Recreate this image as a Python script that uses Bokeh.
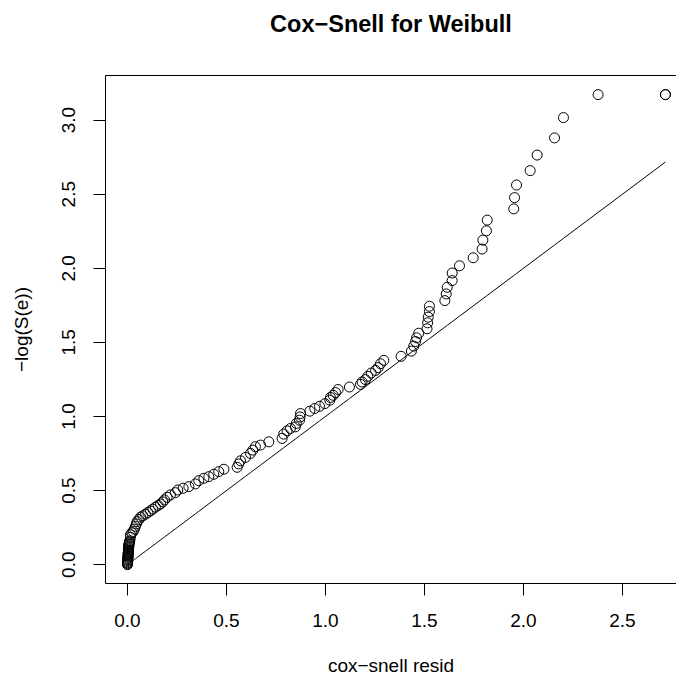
from bokeh.plotting import figure
from bokeh.models import Range1d, FixedTicker, LinearAxis, PrintfTickFormatter
from bokeh.embed import file_html
from bokeh.resources import INLINE

# Cox-Snell residuals (x) and -log(KM survival) (y)
cs_resid = [0.000, 0.000, 0.001, 0.001, 0.001, 0.002, 0.002, 0.002, 0.003, 0.003,
            0.003, 0.004, 0.004, 0.005, 0.005, 0.005, 0.006, 0.006, 0.007, 0.007,
            0.008, 0.009, 0.010, 0.012, 0.015, 0.015, 0.022, 0.029, 0.035, 0.040,
            0.045, 0.049, 0.058, 0.066, 0.078, 0.091, 0.103, 0.116, 0.128, 0.141,
            0.155, 0.167, 0.178, 0.187, 0.200, 0.217, 0.242, 0.254, 0.281, 0.310,
            0.343, 0.360, 0.386, 0.411, 0.436, 0.461, 0.487, 0.554, 0.562, 0.571,
            0.596, 0.621, 0.633, 0.646, 0.672, 0.714, 0.781, 0.789, 0.806, 0.823,
            0.848, 0.853, 0.869, 0.872, 0.874, 0.921, 0.946, 0.970, 0.997, 1.022,
            1.025, 1.039, 1.051, 1.064, 1.121, 1.177, 1.185, 1.202, 1.214, 1.231,
            1.253, 1.266, 1.278, 1.295, 1.382, 1.434, 1.446, 1.455, 1.460, 1.471,
            1.513, 1.516, 1.519, 1.525, 1.525, 1.603, 1.610, 1.615, 1.640, 1.640,
            1.677, 1.746, 1.791, 1.795, 1.813, 1.817, 1.951, 1.955, 1.965, 2.034,
            2.069, 2.157, 2.202, 2.377, 2.717, 2.717]
neg_log_surv = [0.000, 0.007, 0.013, 0.021, 0.028, 0.034, 0.042, 0.049, 0.056, 0.062,
                0.070, 0.077, 0.083, 0.091, 0.098, 0.105, 0.112, 0.118, 0.126, 0.133,
                0.140, 0.147, 0.154, 0.161, 0.185, 0.202, 0.215, 0.224, 0.240, 0.258,
                0.275, 0.291, 0.305, 0.321, 0.330, 0.341, 0.352, 0.363, 0.375, 0.388,
                0.400, 0.410, 0.424, 0.437, 0.455, 0.471, 0.486, 0.504, 0.516, 0.527,
                0.545, 0.567, 0.583, 0.594, 0.610, 0.628, 0.644, 0.657, 0.680, 0.701,
                0.724, 0.751, 0.773, 0.796, 0.807, 0.829, 0.852, 0.881, 0.903, 0.919,
                0.930, 0.953, 0.975, 0.997, 1.020, 1.036, 1.054, 1.069, 1.087, 1.110,
                1.128, 1.143, 1.161, 1.182, 1.199, 1.217, 1.233, 1.249, 1.271, 1.293,
                1.311, 1.330, 1.356, 1.379, 1.406, 1.441, 1.475, 1.506, 1.531, 1.562,
                1.592, 1.632, 1.670, 1.708, 1.744, 1.782, 1.827, 1.872, 1.917, 1.968,
                2.017, 2.071, 2.130, 2.190, 2.253, 2.325, 2.401, 2.477, 2.562, 2.659,
                2.764, 2.880, 3.017, 3.172, 3.172, 3.172]

x_ticks = [0.0, 0.5, 1.0, 1.5, 2.0, 2.5]
y_ticks = [0.0, 0.5, 1.0, 1.5, 2.0, 2.5, 3.0]

FONT = "Liberation Sans"

p = figure(width=676, height=678, output_backend="svg", toolbar_location=None,
           x_range=Range1d(-0.111, 2.773), y_range=Range1d(-0.127, 3.301),
           min_border_left=105, min_border_right=0, min_border_top=75, min_border_bottom=95,
           background_fill_color="white", border_fill_color="white")
p.grid.visible = False
p.outline_line_color = None

xax = p.below[0]
yax = p.left[0]

for ax, ticks in ((xax, x_ticks), (yax, y_ticks)):
    ax.ticker = FixedTicker(ticks=ticks)
    ax.formatter = PrintfTickFormatter(format="%.1f")
    ax.major_tick_out = 12
    ax.major_tick_in = 0
    ax.minor_tick_line_color = None
    ax.major_tick_line_color = "black"
    ax.axis_line_color = "black"
    ax.major_label_text_font = FONT
    ax.major_label_text_font_size = "19px"
    ax.major_label_text_color = "black"
    ax.axis_label_text_font = FONT
    ax.axis_label_text_font_size = "19px"
    ax.axis_label_text_font_style = "normal"
    ax.axis_label_text_color = "black"

xax.axis_label = "cox\u2212snell resid"
xax.major_label_standoff = 18
xax.axis_label_standoff = 25
yax.axis_label = "\u2212log(S(e))"
yax.major_label_orientation = "parallel"
yax.major_label_standoff = 18
yax.axis_label_standoff = 28

# top border of the box, carrying the main title (the right side is off-canvas in the reference)
top = LinearAxis(ticker=FixedTicker(ticks=[]), major_tick_out=0, major_tick_in=0,
                 minor_tick_out=0, minor_tick_in=0, major_label_standoff=0,
                 axis_line_color="black", axis_line_width=1,
                 axis_label="Cox\u2212Snell for Weibull", axis_label_text_font=FONT,
                 axis_label_text_font_size="23.5px", axis_label_text_font_style="bold",
                 axis_label_text_color="black", axis_label_standoff=39)
p.add_layout(top, "above")

p.line(cs_resid, cs_resid, line_color="black", line_width=1)
p.scatter(cs_resid, neg_log_surv, marker="circle", size=10, fill_color=None,
          line_color="black", line_width=1)

open("out.html", "w").write(file_html(p, INLINE))
